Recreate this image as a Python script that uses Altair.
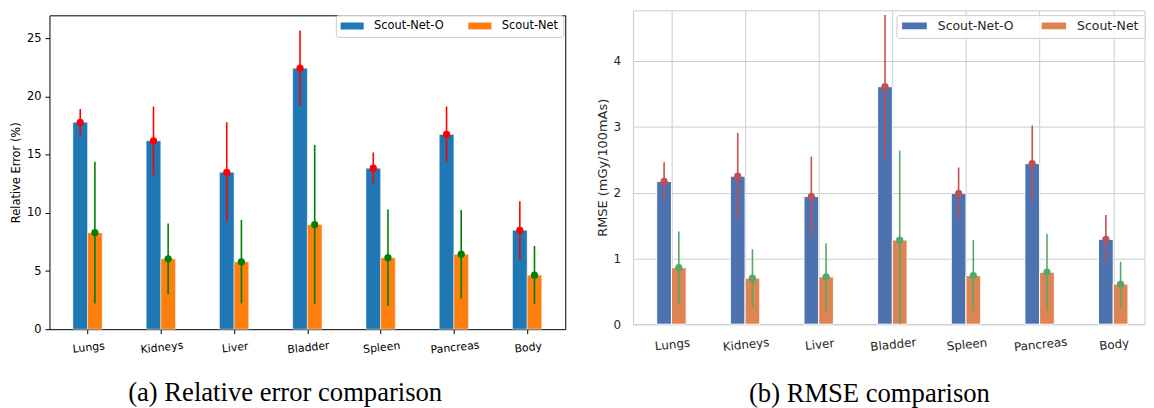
import json
import altair as alt
import pandas as pd

# ---------------- data ----------------
organs = ["Lungs", "Kidneys", "Liver", "Bladder", "Spleen", "Pancreas", "Body"]
methods = ["Scout-Net-O", "Scout-Net"]

# (a) relative error (%)
re_o = [17.8, 16.2, 13.5, 22.45, 13.85, 16.75, 8.5]
re_o_err = [1.15, 2.95, 4.3, 3.25, 1.35, 2.4, 2.5]
re_n = [8.3, 6.05, 5.8, 9.0, 6.15, 6.45, 4.65]
re_n_err = [6.1, 3.05, 3.6, 6.85, 4.15, 3.8, 2.5]

# (b) RMSE (mGy/100mAs)
rm_o = [2.17, 2.25, 1.94, 3.61, 1.99, 2.44, 1.29]
rm_o_err = [0.29, 0.66, 0.61, 1.09, 0.39, 0.58, 0.37]
rm_n = [0.86, 0.70, 0.72, 1.28, 0.74, 0.79, 0.61]
rm_n_err = [0.55, 0.44, 0.51, 1.36, 0.54, 0.58, 0.34]

BAR_W = 0.2
label_expr = json.dumps(organs) + "[datum.value]"


def build_frame(v_o, e_o, v_n, e_n):
    rows = []
    for i, org in enumerate(organs):
        for k, (m, v, e) in enumerate(((methods[0], v_o[i], e_o[i]),
                                       (methods[1], v_n[i], e_n[i]))):
            c = i + (k - 0.5) * BAR_W
            rows.append(dict(organ=org, idx=i, method=m, value=v,
                             lo=v - e, hi=v + e, xc=c,
                             x0=c - BAR_W / 2, x1=c + BAR_W / 2))
    return pd.DataFrame(rows)


def panel(df, c):
    xscale = alt.Scale(domain=c["xdomain"], nice=False, zero=False)
    yscale = alt.Scale(domain=c["ydomain"], nice=False, zero=True, clamp=True)
    xaxis = alt.Axis(
        values=list(range(len(organs))), labelExpr=label_expr,
        labelAngle=c["label_angle"], labelAlign="center", labelBaseline="top",
        labelFont="DejaVu Sans", labelFontSize=c["xlab_size"],
        labelColor=c["text"], labelPadding=c["xlab_pad"],
        labelOverlap=False, labelFlush=False,
        ticks=c["ticks"], tickSize=c["tick_size"], tickColor="black", tickWidth=1,
        domain=False, grid=c["grid"], gridColor="#cccccc", gridWidth=1,
        title=c["caption"], titleFont="Liberation Serif", titleFontSize=26.8,
        titleFontWeight="normal", titleColor="black", titleAlign="center",
        titleBaseline="alphabetic", titleAngle=0,
        titleX=c["cap_x"], titleY=c["cap_y"],
    )
    yaxis = alt.Axis(
        values=c["yticks"], labelFont="DejaVu Sans", labelFontSize=c["ylab_size"],
        labelColor=c["text"], labelPadding=c["ylab_pad"],
        ticks=c["ticks"], tickSize=c["tick_size"], tickColor="black", tickWidth=1,
        domain=False, grid=c["grid"], gridColor="#cccccc", gridWidth=1,
        title=c["ytitle"], titleFont="DejaVu Sans", titleFontSize=c["ytitle_size"],
        titleFontWeight="normal", titleColor=c["text"], titleAngle=270,
        titleBaseline="middle", titleAlign="center",
        titleX=c["ytitle_x"], titleY=c["height"] / 2,
    )
    legend = alt.Legend(
        title=None, orient="none", legendX=c["leg_x"], legendY=c["leg_y"],
        direction="horizontal", columns=2,
        symbolType=c["sym_path"], symbolSize=c["sym_size"],
        symbolStrokeWidth=0, symbolOpacity=1,
        labelFont="DejaVu Sans", labelFontSize=c["leg_size"],
        labelColor=c["text"], labelOffset=c["leg_off"],
        columnPadding=c["leg_colpad"], padding=c["leg_pad"],
        clipHeight=c["leg_clip"],
        strokeColor="#cccccc", fillColor="rgba(255,255,255,0.8)", cornerRadius=2.5,
    )
    bars = alt.Chart(df).mark_bar(stroke="white", strokeWidth=c["edge"]).encode(
        x=alt.X("x0:Q", scale=xscale, axis=xaxis),
        x2="x1:Q",
        y=alt.Y("value:Q", scale=yscale, axis=yaxis),
        y2=alt.datum(0),
        color=alt.Color("method:N",
                        scale=alt.Scale(domain=methods, range=c["bar_colors"]),
                        legend=legend),
    )
    layers = [bars]
    for m, col in zip(methods, c["err_colors"]):
        base = alt.Chart(df).transform_filter(alt.datum.method == m)
        layers.append(base.mark_rule(color=col, strokeWidth=1.6, clip=True).encode(
            x=alt.X("xc:Q", scale=xscale, axis=xaxis),
            y=alt.Y("lo:Q", scale=yscale, axis=yaxis),
            y2="hi:Q",
        ))
        layers.append(base.mark_circle(color=col, size=53, opacity=1).encode(
            x=alt.X("xc:Q", scale=xscale, axis=xaxis),
            y=alt.Y("value:Q", scale=yscale, axis=yaxis),
        ))
    return alt.layer(*layers).properties(
        width=c["width"], height=c["height"],
        view=alt.ViewBackground(stroke=c["frame"], strokeWidth=c["frame_w"]),
    )


df_a = build_frame(re_o, re_o_err, re_n, re_n_err)
df_b = build_frame(rm_o, rm_o_err, rm_n, rm_n_err)

cfg_a = dict(
    width=519.3, height=316, xdomain=[-0.52, 6.52], ydomain=[0, 27],
    yticks=[0, 5, 10, 15, 20, 25], label_angle=354, xlab_size=11, ylab_size=11.5,
    text="black", xlab_pad=8, ylab_pad=4, ticks=True, tick_size=4.5, grid=False,
    caption="(a) Relative error comparison", cap_x=236.8, cap_y=72.2,
    ytitle="Relative Error (%)", ytitle_size=11.5, ytitle_x=-33.5,
    leg_x=288.3, leg_y=4.8, sym_path="M-1,-0.3H1V0.3H-1Z", sym_size=543,
    leg_size=11.5, leg_off=10, leg_colpad=23.6, leg_pad=4.4, leg_clip=12.2,
    bar_colors=["#1f77b4", "#ff7f0e"], err_colors=["#ff0000", "#008000"],
    edge=0.5, frame="black", frame_w=1,
)
cfg_b = dict(
    width=515, height=316, xdomain=[-0.523, 6.424], ydomain=[0, 4.77],
    yticks=[0, 1, 2, 3, 4], label_angle=354, xlab_size=12, ylab_size=12,
    text="#262626", xlab_pad=15, ylab_pad=12.4, ticks=False, tick_size=0, grid=True,
    caption="(b) RMSE comparison", cap_x=237.6, cap_y=78,
    ytitle="RMSE (mGy/100mAs)", ytitle_size=13, ytitle_x=-30.2,
    leg_x=265.3, leg_y=4.8, sym_path="M-1,-0.27H1V0.27H-1Z", sym_size=620,
    leg_size=12.5, leg_off=11, leg_colpad=27.3, leg_pad=5.6, leg_clip=10.2,
    bar_colors=["#4c72b0", "#dd8452"], err_colors=["#c44e52", "#55a868"],
    edge=1, frame="#cccccc", frame_w=1,
)

# invisible strip that sets panel (a) a little lower than panel (b)
spacer = alt.Chart(pd.DataFrame({"v": [0]})).mark_point(opacity=0).encode(
    x=alt.X("v:Q", axis=None), y=alt.Y("v:Q", axis=None),
).properties(width=519.3, height=5,
             view=alt.ViewBackground(strokeOpacity=0, fillOpacity=0, strokeWidth=0))

pa = alt.vconcat(spacer, panel(df_a, cfg_a), spacing=0, bounds="flush")
pb = panel(df_b, cfg_b)

chart = alt.hconcat(pa, pb, spacing=30.45).resolve_scale(
    color="independent"
).properties(
    padding={"left": 1.75, "top": 0, "right": 0, "bottom": 0},
    background="white",
)

chart.save("out.html", embed_options={"renderer": "svg", "actions": False})
